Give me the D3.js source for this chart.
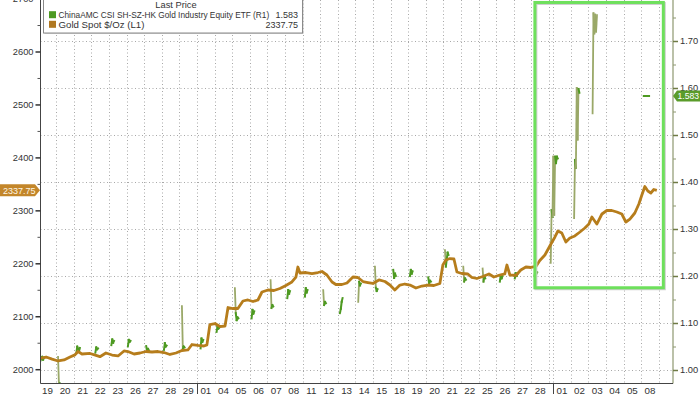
<!DOCTYPE html>
<html><head><meta charset="utf-8">
<script src="https://cdn.jsdelivr.net/npm/d3@7"></script>
<style>
html,body{margin:0;padding:0;background:#fff;}
svg{display:block;font-family:"Liberation Sans",Arial,sans-serif;}
</style></head><body>
<svg id="c" width="700" height="394"></svg>
<script>
// ---- data ----
// trading sessions on the x axis ("" = Good Friday short session)
const dayLabels = ["19","20","21","22","23","26","27","28","29",
  "01","04","05","06","07","08","11","12","13","14","15","18","19","20","21","22","25","26","27","28",
  "", "01","02","03","04","05","08"];
const dayLengths = dayLabels.map(l => l === "" ? 0.24 : 1);
const xDomainEnd = 36.05;

const leftTicks = [2000,2100,2200,2300,2400,2500,2600,2700];
const rightTicks = [1.00,1.10,1.20,1.30,1.40,1.50,1.60,1.70];

const seriesNames = ["ChinaAMC CSI SH-SZ-HK Gold Industry Equity ETF  (R1)", "Gold Spot $/Oz  (L1)"];
const lastValues = ["1.583", "2337.75"];

// Gold spot: [session time, price]
const goldSeries = [
 [0.07,2020.2],[0.42,2023],[0.76,2019],[1.10,2015.5],[1.44,2017.4],[1.78,2023],[2.06,2027],[2.23,2033.4],
 [2.46,2028.7],[2.92,2029.7],[3.26,2026],[3.48,2023.6],[3.82,2030.6],[4.17,2026.8],[4.51,2025],[4.85,2034.4],
 [5.07,2033.4],[5.42,2028.7],[5.76,2030.6],[6.10,2033.4],[6.44,2032.5],[6.78,2033.4],[7.12,2031.5],[7.46,2027.8],
 [7.80,2030.6],[8.14,2035.3],[8.48,2036.3],[8.71,2046.6],[9.05,2044.8],[9.39,2043.8],[9.56,2046],[9.73,2084.4],
 [10.02,2086.3],[10.30,2080.6],[10.59,2081.6],[10.76,2116.5],[11.04,2114.6],[11.32,2114.6],[11.61,2128.8],[11.89,2130.7],
 [12.18,2127.9],[12.46,2130.7],[12.69,2145.8],[13.03,2149.6],[13.37,2148.6],[13.71,2152.4],[14.05,2158.1],[14.39,2164.7],
 [14.62,2174.1],[14.73,2193],[14.85,2181.7],[15.19,2182.6],[15.53,2180.7],[15.87,2182.6],[16.10,2184.5],[16.38,2177.9],
 [16.67,2164.7],[16.89,2160],[17.23,2160],[17.52,2162.8],[17.86,2174.1],[18.14,2173.2],[18.43,2165.6],[18.71,2163.7],
 [18.99,2161.9],[19.34,2168.5],[19.68,2165.6],[19.96,2159],[20.24,2149.6],[20.53,2159],[20.81,2160.9],[21.10,2159],
 [21.44,2153.4],[21.78,2157.1],[22.12,2159],[22.46,2158.1],[22.80,2161.9],[22.97,2196.8],[23.14,2206.2],[23.37,2209],
 [23.60,2208.1],[23.77,2183.6],[24.05,2180.7],[24.39,2179.8],[24.62,2173.2],[24.90,2171.3],[25.24,2175.1],[25.59,2179.8],
 [25.87,2174.1],[26.21,2177.9],[26.49,2179.8],[26.61,2196.8],[26.78,2177.9],[27.12,2177],[27.40,2187.3],[27.69,2193],
 [27.97,2192.1],[28.26,2194],[28.48,2205.3],[28.77,2215.7],[29.05,2232.7],[29.34,2249.7],[29.51,2261],[29.73,2257.2],
 [29.96,2240.2],[30.19,2247.8],[30.47,2251.6],[30.76,2259.1],[31.04,2266.7],[31.27,2274.2],[31.44,2287.4],[31.72,2274.2],
 [32.01,2293.1],[32.29,2299.7],[32.57,2299.7],[32.86,2296.9],[33.14,2293.1],[33.37,2278],[33.60,2283.6],[33.88,2295],
 [34.11,2312],[34.28,2329],[34.45,2345],[34.62,2336.5],[34.79,2332.8],[34.96,2339.4],[35.13,2337.75]
];

// ETF: session open time and intraday ticks per session
const etfStart = [0.1,1.1,2.14,3.22,4.13,5.07,6.11,7.12,8.14,9.2,10.11,11.15,12.1,13.18,14.13,15.13,16.17,17.12,
  18.16,19.11,20.15,21.1,22.14,23.09,24.13,25.23,26.21,27.06,28.18,29.1,30.43,31.48,34.39];
const etfTickStep = 0.05;
const etfSessions = [
 [1.02,1.025,1.028,1.022,1.026],[1.028,0.97,0.972],[1.036,1.05,1.045,1.04,1.047],[1.037,1.048,1.044,1.046],
 [1.053,1.065,1.058,1.062],[1.05,1.064,1.06,1.062],[1.051,1.039,1.045,1.042],[1.043,1.057,1.05,1.052],
 [1.136,1.045,1.05,1.048],[1.046,1.067,1.06,1.064],[1.081,1.092,1.088,1.09],[1.174,1.121,1.106,1.112,1.11],
 [1.11,1.128,1.12,1.125],[1.191,1.132,1.138,1.135],[1.153,1.17,1.162,1.168],[1.156,1.174,1.165,1.17],
 [1.17,1.138,1.145,1.142],[1.121,1.13,1.145,1.153],[1.145,1.188,1.18,1.184],[1.22,1.175,1.168,1.172],
 [1.213,1.196,1.205,1.2],[1.2,1.213,1.205,1.21],[1.197,1.184,1.19,1.188],[1.255,1.22,1.235,1.25,1.245],
 [1.22,1.188,1.195,1.192],[1.216,1.188,1.2,1.195],[1.188,1.202,1.195,1.2],[1.195,1.206,1.2,1.204],
 [1.2,1.21,1.205,1.208],
 [1.228,1.34,1.326,1.454,1.33,1.454,1.44,1.454,1.45],
 [1.323,1.447,1.43,1.6,1.49,1.598,1.59],
 [1.546,1.759,1.716,1.756,1.72,1.755],
 [1.583,1.583,1.583,1.583,1.583,1.583,1.583]
];
// highlighted period (session time, right-axis value)
const highlightT = [28.2, 35.5];
const highlightV = [1.175, 1.782];

// ---- layout ----
const W = 700, H = 394;
const plotL = 40.5, plotR = 673, plotB = 383;
const svg = d3.select("#c");

const starts = [];
{ let acc = 0; dayLengths.forEach(l => { starts.push(acc); acc += l; }); }

const x = d3.scaleLinear().domain([0, xDomainEnd]).range([38.7, 673]);
const yL = d3.scaleLinear().domain([2000, 2600]).range([369.2, 51.5]);
const yR = d3.scaleLinear().domain([1.00, 1.70]).range([370, 41]);

const gold = "#b67d1c", etfGreen = "#4e9a22", etfOlive = "#9aa868";

svg.append("defs").append("clipPath").attr("id","clip")
  .append("rect").attr("x",plotL).attr("y",-10).attr("width",plotR-plotL).attr("height",plotB+10);

// horizontal gridlines (right axis ticks)
svg.append("g").selectAll("line").data(rightTicks).join("line")
  .attr("x1",plotL).attr("x2",plotR).attr("y1",d=>Math.round(yR(d))+0.5).attr("y2",d=>Math.round(yR(d))+0.5)
  .attr("stroke","#a8a8a8").attr("stroke-dasharray","1,2.5");

// vertical gridlines at session boundaries
const bounds = starts.slice(1).concat([starts[starts.length-1]+dayLengths[dayLengths.length-1]]);
svg.append("g").selectAll("line").data(bounds).join("line")
  .attr("x1",d=>Math.round(x(d))+0.5).attr("x2",d=>Math.round(x(d))+0.5).attr("y1",0).attr("y2",plotB)
  .attr("stroke","#a8a8a8").attr("stroke-dasharray","1,2.5");

// ETF sessions
const etfG = svg.append("g").attr("clip-path","url(#clip)");
etfSessions.forEach((vals, i) => {
  for (let k = 0; k < vals.length - 1; k++) {
    const big = Math.abs(vals[k+1]-vals[k]) > 0.025;
    etfG.append("line")
      .attr("x1", x(etfStart[i] + k*etfTickStep)).attr("x2", x(etfStart[i] + (k+1)*etfTickStep))
      .attr("y1", yR(vals[k])).attr("y2", yR(vals[k+1]))
      .attr("stroke", big ? etfOlive : etfGreen).attr("stroke-width", big ? 1.8 : 2)
      .attr("stroke-linecap","square");
  }
});

// Gold line
svg.append("path").datum(goldSeries).attr("clip-path","url(#clip)")
  .attr("d", d3.line().x(d=>x(d[0])).y(d=>yL(d[1])))
  .attr("fill","none").attr("stroke",gold).attr("stroke-width",2.8).attr("stroke-linejoin","round");

// axes lines
svg.append("line").attr("x1",plotL).attr("x2",plotL).attr("y1",-5).attr("y2",plotB+0.5).attr("stroke","#444");
svg.append("line").attr("x1",plotR).attr("x2",plotR).attr("y1",-5).attr("y2",plotB+0.5).attr("stroke","#8e9870").attr("stroke-width",1.2);
svg.append("line").attr("x1",plotL).attr("x2",plotR).attr("y1",plotB+0.5).attr("y2",plotB+0.5).attr("stroke","#444");

// left axis
const gl = svg.append("g").attr("transform",`translate(${plotL},0)`)
  .call(d3.axisLeft(yL).tickValues(leftTicks).tickSize(5).tickPadding(2).tickFormat(d3.format("d")));
gl.select(".domain").remove();
gl.selectAll("line").attr("stroke","#333").attr("stroke-width",1.5);
gl.selectAll("text").attr("font-size",9.3).attr("fill","#333").attr("font-family","Liberation Sans, Arial");
const glm = svg.append("g").attr("transform",`translate(${plotL},0)`)
  .call(d3.axisLeft(yL).tickValues(leftTicks.map(d=>d+50)).tickSize(3).tickFormat(""));
glm.select(".domain").remove();
glm.selectAll("line").attr("stroke","#555");

// right axis
const gr = svg.append("g").attr("transform",`translate(${plotR},0)`)
  .call(d3.axisRight(yR).tickValues(rightTicks).tickSize(5).tickPadding(2).tickFormat(d3.format(".2f")));
gr.select(".domain").remove();
gr.selectAll("line").attr("stroke","#6f7a45").attr("stroke-width",1.5);
gr.selectAll("text").attr("font-size",9.3).attr("fill","#333").attr("font-family","Liberation Sans, Arial");
const grm = svg.append("g").attr("transform",`translate(${plotR},0)`)
  .call(d3.axisRight(yR).tickValues(rightTicks.map(d=>d+0.05)).tickSize(3).tickFormat(""));
grm.select(".domain").remove();
grm.selectAll("line").attr("stroke","#8e9870");

// x labels
svg.append("g").selectAll("text").data(dayLabels.map((l,i)=>({l, c: starts[i]+dayLengths[i]/2})).filter(d=>d.l!==""))
  .join("text").attr("x",d=>x(d.c)).attr("y",393.5).attr("text-anchor","middle")
  .attr("font-size",9.8).attr("fill","#333").text(d=>d.l);
// month separators
const monthIdx = dayLabels.map((l,i)=>l==="01"?i:-1).filter(i=>i>=0);
svg.append("g").selectAll("line").data(monthIdx).join("line")
  .attr("x1",i=>Math.round(x(starts[i]))+0.5).attr("x2",i=>Math.round(x(starts[i]))+0.5)
  .attr("y1",plotB).attr("y2",H).attr("stroke","#444");

// highlight box
const hb = {x: x(highlightT[0]), y: yR(highlightV[1]), w: x(highlightT[1])-x(highlightT[0]), h: yR(highlightV[0])-yR(highlightV[1])};
svg.append("rect").attr("x",hb.x+1).attr("y",hb.y+1).attr("width",hb.w).attr("height",hb.h)
  .attr("fill","none").attr("stroke","#cfcfcf").attr("stroke-width",3);
svg.append("rect").attr("x",hb.x).attr("y",hb.y).attr("width",hb.w).attr("height",hb.h)
  .attr("fill","none").attr("stroke","#6ee05c").attr("stroke-width",3);

// legend
const lg = svg.append("g");
lg.append("rect").attr("x",44.5).attr("y",-3).attr("width",259).attr("height",37).attr("fill","#d0d0d0");
lg.append("rect").attr("x",43.5).attr("y",-4).attr("width",259).attr("height",37).attr("fill","#fff").attr("stroke","#8a8a8a");
lg.append("text").attr("x",176).attr("y",8.4).attr("text-anchor","middle").attr("font-size",9.3).attr("fill","#333").text("Last Price");
const legColors = [etfGreen, "#b07820"];
const nameWidths = [211, 86];
seriesNames.forEach((n,i)=>{
  const yy = 18 + i*9.6;
  lg.append("rect").attr("x",49).attr("y",yy-6.8).attr("width",7).attr("height",7).attr("fill",legColors[i]);
  const tg = lg.append("g").attr("transform",`translate(58.5,${yy})`);
  const t = tg.append("text").attr("x",0).attr("y",0).attr("font-size",9).attr("fill","#333").text(n);
  const natural = t.node().getComputedTextLength();
  tg.attr("transform",`translate(58.5,${yy}) scale(${nameWidths[i]/natural},1)`);
  lg.append("text").attr("x",298).attr("y",yy).attr("text-anchor","end").attr("font-size",9).attr("fill","#333").text(lastValues[i]);
});

// value tags
const gy = yL(goldSeries[goldSeries.length-1][1]);
svg.append("path").attr("d",`M0,${gy-6}H35L40,${gy}L35,${gy+6}H0Z`).attr("fill","#c3862a");
svg.append("text").attr("x",3).attr("y",gy+3.3).attr("font-size",9).attr("fill","#fff6e6").text(lastValues[1]);
const lastEtf = etfSessions[etfSessions.length-1];
const ey = yR(lastEtf[lastEtf.length-1]);
svg.append("path").attr("d",`M673,${ey}L677,${ey-5.5}H700V${ey+5.5}H677Z`).attr("fill","#5a9c2a");
svg.append("text").attr("x",677.5).attr("y",ey+3.2).attr("font-size",8.6).attr("fill","#fff").text(lastValues[0]);
</script>
</body></html>
